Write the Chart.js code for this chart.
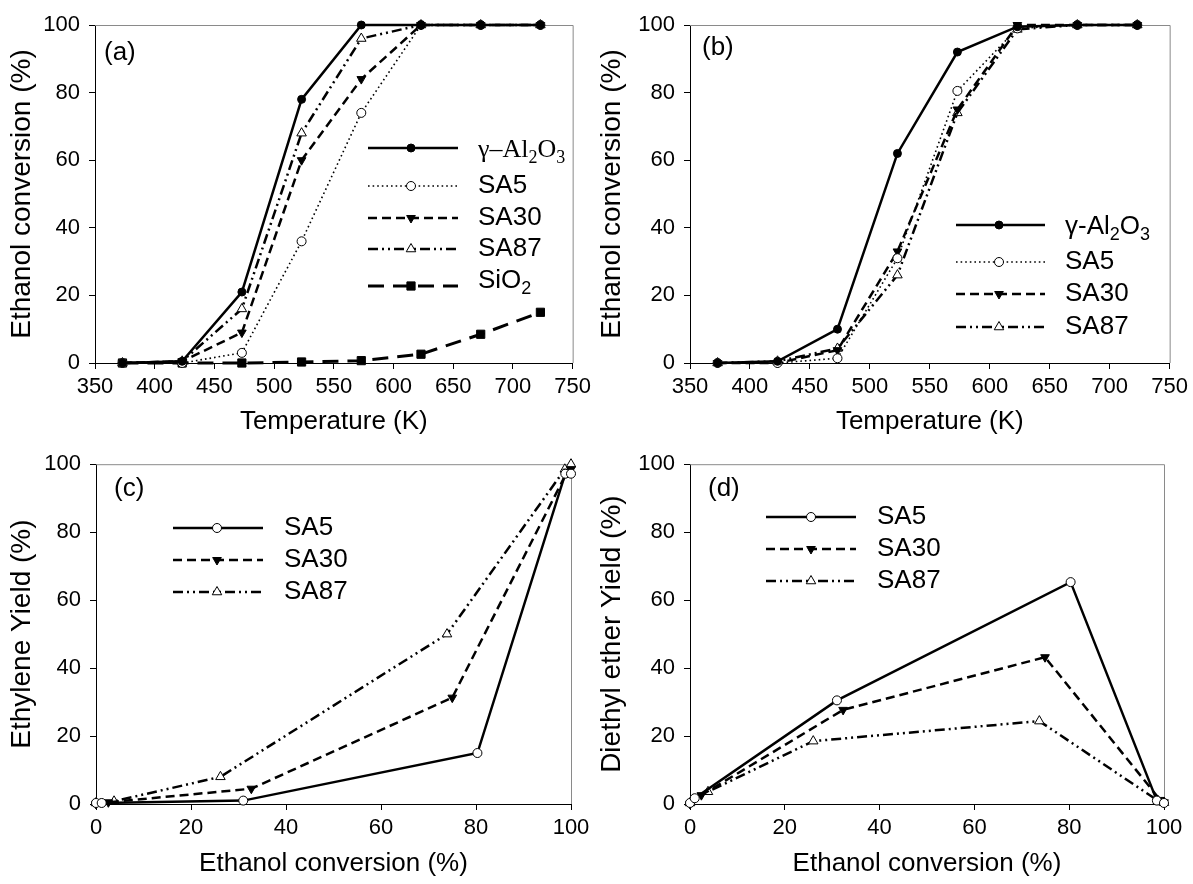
<!DOCTYPE html>
<html>
<head>
<meta charset="utf-8">
<script src="https://cdn.jsdelivr.net/npm/chart.js@4.4.1/dist/chart.umd.min.js"></script>
<style>
  body { margin: 0; background: #fff; }
  #wrap { position: relative; width: 1193px; height: 884px; }
  canvas { position: absolute; }
</style>
</head>
<body>
<div id="wrap">
  <canvas id="cA" width="596" height="442" style="left:0px;top:0px"></canvas>
  <canvas id="cB" width="597" height="442" style="left:596px;top:0px"></canvas>
  <canvas id="cC" width="596" height="442" style="left:0px;top:442px"></canvas>
  <canvas id="cD" width="597" height="442" style="left:596px;top:442px"></canvas>
</div>
<script>
const FONT = "'Liberation Sans', Arial, sans-serif";
const SERIF = "'Liberation Serif', 'Times New Roman', serif";

// temperatures (K) for panels a and b
const tempK = [373, 423, 473, 523, 573, 623, 673, 723];
const xTicksK = [350, 750, 50];      // min, max, step
const pctTicks = [0, 100, 20];

// (a) ethanol conversion (%)
const convA_Al2O3 = [0, 0.5, 21, 78, 100, 100, 100, 100];
const convA_SA5   = [0, 0, 3, 36, 74, 100, 100, 100];
const convA_SA30  = [0, 0.5, 9, 60, 84, 100, 100, 100];
const convA_SA87  = [0, 0.5, 16, 68, 96, 100, 100, 100];
const convA_SiO2  = [0, 0, 0, 0.3, 0.7, 2.6, 8.5, 15];

// (b) ethanol conversion (%)
const convB_Al2O3 = [0, 0.5, 10, 62, 92, 99.5, 100, 100];
const convB_SA5   = [0, 0, 1.4, 31, 80.5, 99, 100, 100];
const convB_SA30  = [0, 0, 3.8, 33, 75, 100, 100, 100];
const convB_SA87  = [0, 0.5, 4.3, 26, 74, 98.7, 100, 100];

// (c) ethylene yield vs conversion
const convC_SA5  = [0, 1.2, 31, 80.3, 98.8, 100];
const ethC_SA5   = [0.3, 0.3, 1, 15, 97.2, 97.2];
const convC_SA30 = [0, 2.6, 32.7, 75, 99.2, 100];
const ethC_SA30  = [0, 0.5, 4.5, 31.3, 97.8, 98.5];
const convC_SA87 = [0, 3.8, 26.2, 73.9, 98.7, 100];
const ethC_SA87  = [0.3, 0.8, 8, 50, 98.5, 100];

// (d) diethyl ether yield vs conversion
const convD_SA5  = [0, 1, 31, 80.3, 98.5, 100];
const deeD_SA5   = [0.3, 1.7, 30.5, 65.3, 1, 0.3];
const convD_SA30 = [0, 2.4, 32.3, 74.9, 99.2, 100];
const deeD_SA30  = [0, 2.6, 27.7, 43.2, 1.2, 0.5];
const convD_SA87 = [0, 3.8, 26, 73.7, 98.7, 100];
const deeD_SA87  = [0.3, 3.6, 18.5, 24.4, 1, 0.4];

// line / marker styles
const ST = {
  al:   { w: 2.5, dash: [], ps: 'circle', r: 4, fill: '#000' },
  sa5d: { w: 1.6, dash: [1.6, 3], ps: 'circle', r: 4.5, fill: '#fff' },
  sa5:  { w: 2.5, dash: [], ps: 'circle', r: 4.5, fill: '#fff' },
  sa30: { w: 2.5, dash: [9, 5], ps: 'triangle', rot: 180, r: 5, fill: '#000' },
  sa87: { w: 2.5, dash: [10, 4, 2, 4, 2, 4], ps: 'triangle', r: 5.5, fill: '#fff' },
  sio2: { w: 3, dash: [16, 9], ps: 'rect', r: 5.8, fill: '#000' }
};

function ds(label, xs, ys, st) {
  return {
    label,
    data: xs.map((x, i) => ({ x, y: ys[i] })),
    showLine: true,
    tension: 0,
    clip: false,
    borderColor: '#000',
    backgroundColor: st.fill,
    borderWidth: st.w,
    borderDash: st.dash,
    pointStyle: st.ps,
    pointRotation: st.rot || 0,
    pointRadius: st.r,
    pointBackgroundColor: st.fill,
    pointBorderColor: '#000',
    pointBorderWidth: 1,
    _st: st
  };
}

function drawRich(ctx, segs, x, y, size, family) {
  ctx.textBaseline = 'middle';
  ctx.textAlign = 'left';
  for (const s of segs) {
    if (s.sub) {
      ctx.font = Math.round(size * 0.68) + 'px ' + family;
      ctx.fillText(s.t, x, y + size * 0.3);
    } else {
      ctx.font = size + 'px ' + family;
      ctx.fillText(s.t, x, y);
    }
    x += ctx.measureText(s.t).width;
  }
}

// frame (top/right) + line legend + panel letter
const decor = {
  id: 'decor',
  beforeDatasetsDraw(chart, args, o) {
    const { ctx, chartArea: a } = chart;
    ctx.save();
    ctx.strokeStyle = '#8a8a8a';
    ctx.lineWidth = 1;
    ctx.beginPath();
    ctx.moveTo(a.left, a.top + 0.5);
    ctx.lineTo(a.right + 0.5, a.top + 0.5);
    ctx.lineTo(a.right + 0.5, a.bottom);
    ctx.stroke();
    ctx.restore();
  },
  afterDraw(chart, args, o) {
    const ctx = chart.ctx;
    ctx.save();
    ctx.fillStyle = '#000';
    drawRich(ctx, [{ t: o.letter.text }], o.letter.x, o.letter.y, 26, FONT);
    const L = o.legend;
    chart.data.datasets.forEach((d, i) => {
      const st = d._st, y = L.rows[i];
      ctx.strokeStyle = '#000';
      ctx.lineWidth = st.w;
      ctx.setLineDash(st.dash);
      ctx.beginPath();
      ctx.moveTo(L.x1, y);
      ctx.lineTo(L.x2, y);
      ctx.stroke();
      ctx.setLineDash([]);
      ctx.lineWidth = 1;
      ctx.fillStyle = st.fill;
      Chart.helpers.drawPoint(ctx, { pointStyle: st.ps, rotation: st.rot || 0, radius: st.r, borderWidth: 1 }, L.mx, y);
      ctx.fillStyle = '#000';
      const fam = (L.fams && L.fams[i]) || FONT;
      drawRich(ctx, L.items[i], L.tx, y + (L.dy ? L.dy[i] : 0), 26, fam);
    });
    ctx.restore();
  }
};

function opts(p) {
  const tickFont = { family: FONT, size: 22 };
  return {
    responsive: false,
    animation: false,
    devicePixelRatio: 1,
    layout: { padding: { left: 0, top: p.top, right: p.right, bottom: 0 } },
    plugins: {
      legend: { display: false },
      tooltip: { enabled: false },
      decor: { letter: p.letter, legend: p.legend }
    },
    scales: {
      x: {
        type: 'linear', min: p.xt[0], max: p.xt[1],
        ticks: { stepSize: p.xt[2], color: '#000', font: tickFont, padding: 5, maxRotation: 0, autoSkip: false },
        grid: { drawOnChartArea: false, drawTicks: true, tickLength: 6, color: '#000', lineWidth: 1 },
        border: { color: '#000', width: 1 },
        title: { display: true, text: p.xTitle, color: '#000', font: { family: FONT, size: 26, lineHeight: 1 }, padding: { top: 0, bottom: 7 } },
        afterFit(s) { s.height = p.xH; }
      },
      y: {
        type: 'linear', min: pctTicks[0], max: pctTicks[1],
        ticks: { stepSize: pctTicks[2], color: '#000', font: tickFont, padding: 9 },
        grid: { drawOnChartArea: false, drawTicks: true, tickLength: 6, color: '#000', lineWidth: 1 },
        border: { color: '#000', width: 1 },
        title: { display: true, text: p.yTitle, color: '#000', font: { family: FONT, size: 28, lineHeight: 1 }, padding: { top: p.yTitlePad, bottom: 0 } },
        afterFit(s) { s.width = p.yW; }
      }
    }
  };
}

const AL_SERIF = [{ t: 'γ–Al' }, { t: '2', sub: true }, { t: 'O' }, { t: '3', sub: true }];
const AL_SANS = [{ t: 'γ-Al' }, { t: '2', sub: true }, { t: 'O' }, { t: '3', sub: true }];
const SIO2 = [{ t: 'SiO' }, { t: '2', sub: true }];

// (a)
new Chart(document.getElementById('cA'), {
  type: 'scatter',
  data: { datasets: [
    ds('γ-Al2O3', tempK, convA_Al2O3, ST.al),
    ds('SA5', tempK, convA_SA5, ST.sa5d),
    ds('SA30', tempK, convA_SA30, ST.sa30),
    ds('SA87', tempK, convA_SA87, ST.sa87),
    ds('SiO2', tempK, convA_SiO2, ST.sio2)
  ] },
  options: opts({
    top: 25, right: 18, xH: 79, yW: 95, yTitlePad: 8, xt: xTicksK,
    xTitle: 'Temperature (K)', yTitle: 'Ethanol conversion (%)',
    letter: { text: '(a)', x: 104, y: 53 },
    legend: { x1: 368, x2: 458, mx: 411, tx: 478, rows: [148, 186, 218, 249, 286], dy: [2, 0, 0, 0, -5],
      fams: [SERIF],
      items: [AL_SERIF, [{ t: 'SA5' }], [{ t: 'SA30' }], [{ t: 'SA87' }], SIO2] }
  }),
  plugins: [decor]
});

// (b)
new Chart(document.getElementById('cB'), {
  type: 'scatter',
  data: { datasets: [
    ds('γ-Al2O3', tempK, convB_Al2O3, ST.al),
    ds('SA5', tempK, convB_SA5, ST.sa5d),
    ds('SA30', tempK, convB_SA30, ST.sa30),
    ds('SA87', tempK, convB_SA87, ST.sa87)
  ] },
  options: opts({
    top: 25, right: 20, xH: 79, yW: 94, yTitlePad: 2, xt: xTicksK,
    xTitle: 'Temperature (K)', yTitle: 'Ethanol conversion (%)',
    letter: { text: '(b)', x: 106, y: 48 },
    legend: { x1: 360, x2: 449, mx: 403, tx: 469, rows: [225, 262, 294, 327], dy: [2, 0, 0, 0],
      items: [AL_SANS, [{ t: 'SA5' }], [{ t: 'SA30' }], [{ t: 'SA87' }]] }
  }),
  plugins: [decor]
});

// (c)
new Chart(document.getElementById('cC'), {
  type: 'scatter',
  data: { datasets: [
    ds('SA5', convC_SA5, ethC_SA5, ST.sa5),
    ds('SA30', convC_SA30, ethC_SA30, ST.sa30),
    ds('SA87', convC_SA87, ethC_SA87, ST.sa87)
  ] },
  options: opts({
    top: 21, right: 25, xH: 80, yW: 96, yTitlePad: 8, xt: pctTicks,
    xTitle: 'Ethanol conversion (%)', yTitle: 'Ethylene Yield (%)',
    letter: { text: '(c)', x: 114, y: 47 },
    legend: { x1: 173, x2: 263, mx: 217, tx: 284, rows: [86, 118, 150],
      items: [[{ t: 'SA5' }], [{ t: 'SA30' }], [{ t: 'SA87' }]] }
  }),
  plugins: [decor]
});

// (d)
new Chart(document.getElementById('cD'), {
  type: 'scatter',
  data: { datasets: [
    ds('SA5', convD_SA5, deeD_SA5, ST.sa5),
    ds('SA30', convD_SA30, deeD_SA30, ST.sa30),
    ds('SA87', convD_SA87, deeD_SA87, ST.sa87)
  ] },
  options: opts({
    top: 21, right: 29, xH: 80, yW: 94, yTitlePad: 2, xt: pctTicks,
    xTitle: 'Ethanol conversion (%)', yTitle: 'Diethyl ether Yield (%)',
    letter: { text: '(d)', x: 112, y: 47 },
    legend: { x1: 170, x2: 260, mx: 215, tx: 281, rows: [75, 107, 139],
      items: [[{ t: 'SA5' }], [{ t: 'SA30' }], [{ t: 'SA87' }]] }
  }),
  plugins: [decor]
});
</script>
</body>
</html>
